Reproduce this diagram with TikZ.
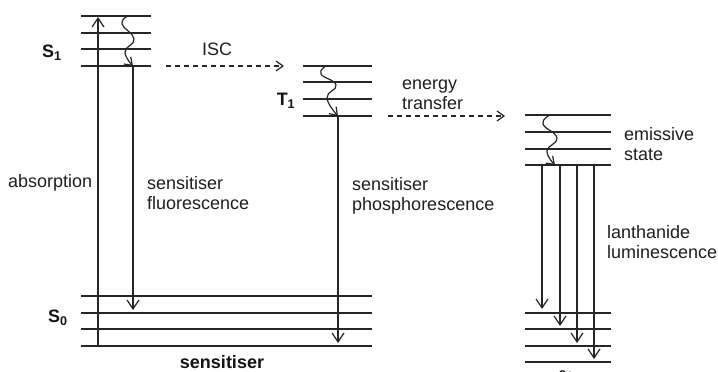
\documentclass[tikz,border=0pt]{standalone}
\usepackage{fontspec}
\setmainfont{Liberation Sans}
\usetikzlibrary{arrows.meta,calc}
\begin{document}
\begin{tikzpicture}[x=1pt,y=-1pt,
  level/.style={line width=1.4pt,draw=black!85},
  trans/.style={line width=1.3pt,draw=black!85,-{Straight Barb[length=9pt,width=12pt,line width=1.2pt]}},
  wavy/.style={line width=1.2pt,draw=black!85,-{Straight Barb[length=7pt,width=10pt,line width=1.2pt]}},
  dasharrow/.style={line width=1.2pt,draw=black!85,dash pattern=on 5pt off 4pt,-{Straight Barb[length=7pt,width=10pt,line width=1.2pt]}},
  lbl/.style={font=\fontsize{18}{20}\selectfont,text=black!88,inner sep=0pt,align=left},
  state/.style={font=\fontsize{18}{20}\selectfont\bfseries,text=black!92,inner sep=0pt}]
\clip (0,0) rectangle (718,372);
\fill[white] (0,0) rectangle (718,372);
% S1 levels
\foreach \y [count=\i] in {16,33,49,66}{
  \draw[level] (81,\y) coordinate (s1l\i) -- (151,\y) coordinate (s1r\i);}
% T1 levels
\foreach \y [count=\i] in {66,82,99,116}{
  \draw[level] (303,\y) coordinate (t1l\i) -- (372,\y) coordinate (t1r\i);}
% S0 levels
\foreach \y [count=\i] in {296,313,329,346}{
  \draw[level] (81,\y) coordinate (s0l\i) -- (372,\y) coordinate (s0r\i);}
% emissive levels
\foreach \y [count=\i] in {115,132,149,165}{
  \draw[level] (525,\y) coordinate (eml\i) -- (611,\y) coordinate (emr\i);}
% lanthanide lower levels
\foreach \y [count=\i] in {313,329,346,362}{
  \draw[level] (525,\y) coordinate (lnl\i) -- (611,\y) coordinate (lnr\i);}
% absorption
\coordinate (absB) at (98,346);
\coordinate (absT) at (98,17);
\draw[trans] (absB) -- (absT);
% fluorescence
\coordinate (flT) at (133,66);
\coordinate (flB) at (133,310);
\draw[trans] (flT) -- (flB);
% phosphorescence
\coordinate (phT) at (338,116);
\coordinate (phB) at (338,343);
\draw[trans] (phT) -- (phB);
% lanthanide luminescence
\foreach \x/\yb [count=\i] in {542/309,560/326,577/343,594/359}{
  \coordinate (lnT\i) at (\x,165);
  \coordinate (lnB\i) at (\x,\yb);
  \draw[trans] (lnT\i) -- (lnB\i);}
% wavy relaxations
\draw[wavy] plot[smooth,tension=0.8] coordinates {(128,16) (122,24) (134,39) (125,52) (133,66)};
\draw[wavy] plot[smooth,tension=0.8] coordinates {(326,66) (321,74) (336,85) (327,98) (338,116)};
\draw[wavy] plot[smooth,tension=0.8] coordinates {(550,115) (543,124) (557,138) (547,151) (555,165)};
% dashed transfers
\coordinate (iscA) at (166,66);
\coordinate (iscB) at (284,66);
\draw[dasharrow] (iscA) -- (iscB);
\coordinate (etA) at (388,116);
\coordinate (etB) at (505,116);
\draw[dasharrow] (etA) -- (etB);
% labels
\node[state] (S1) at (52,53) {S\textsubscript{1}};
\node[state] (T1) at (286,101) {T\textsubscript{1}};
\node[state] (S0) at (58,318) {S\textsubscript{0}};
\node[lbl,anchor=west] (isc) at (202,49) {ISC};
\node[lbl,anchor=west] (abs) at (8,183) {absorption};
\node[lbl,anchor=west] (fl) at (147,193) {sensitiser\\fluorescence};
\node[lbl,anchor=west] (ph) at (352,196) {sensitiser\\phosphorescence};
\node[lbl,anchor=west] (et) at (402,95) {energy\\transfer};
\node[lbl,anchor=west] (em) at (624,144) {emissive\\state};
\node[lbl,anchor=west] (lum) at (607,242) {lanthanide\\luminescence};
\node[state] (sens) at (222,362) {sensitiser};
\node[state,anchor=base west] (ln) at (537,386) {Ln\textsuperscript{3+}};
\end{tikzpicture}
\end{document}
